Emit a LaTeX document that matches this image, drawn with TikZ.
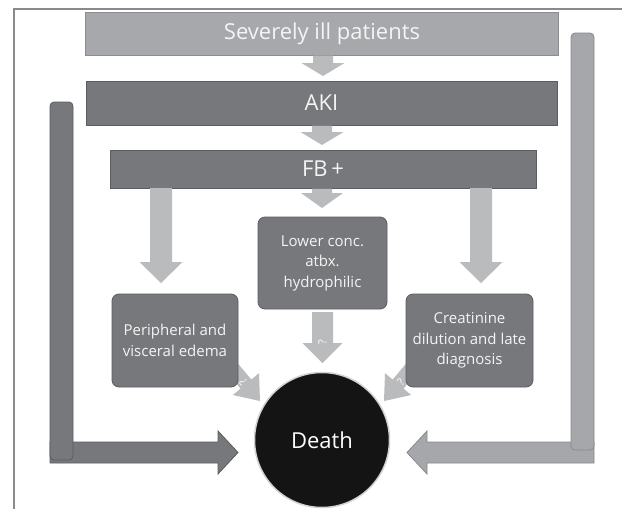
\documentclass[tikz,border=0pt]{standalone}
\usepackage{fontspec}
\setmainfont{Open Sans}
\usetikzlibrary{calc}
\definecolor{lightbox}{HTML}{A7A8AB}
\definecolor{lightboxline}{HTML}{8C8D90}
\definecolor{darkbox}{HTML}{77787B}
\definecolor{darkboxline}{HTML}{5C5D60}
\definecolor{arrowgray}{HTML}{BABBBD}
\definecolor{rightgray}{HTML}{A6A7AA}
\definecolor{rightline}{HTML}{898A8D}
\definecolor{framegray}{HTML}{8A8A8A}
\definecolor{txt}{HTML}{F4F4F4}
\tikzset{
  bigbox/.style={rectangle, draw=#1line, fill=#1, line width=1pt, text=txt, inner sep=0pt, font=\fontsize{22}{26}\selectfont},
  smallbox/.style={rectangle, rounded corners=7pt, draw=darkboxline, fill=darkbox, line width=0.8pt, text=txt, inner sep=0pt, align=center, font=\fontsize{15}{20.5}\selectfont},
  lightarrow/.style={fill=arrowgray},
  qmark/.style={text=white, font=\fontsize{11}{11}\selectfont, inner sep=0pt},
}
% down block arrow: #1 style, #2 start (top), #3 tip, #4 half shaft, #5 half head, #6 head length
\newcommand\downblk[6]{\path[#1] let \p1=(#2), \p2=(#3) in
  (\x2-#4,\y1) -- (\x2+#4,\y1) -- (\x2+#4,\y2+#6) -- (\x2+#5,\y2+#6) -- (\x2,\y2)
  -- (\x2-#5,\y2+#6) -- (\x2-#4,\y2+#6) -- cycle;}
\begin{document}
\begin{tikzpicture}[x=1pt,y=-1pt]
\fill[white] (0,0) rectangle (622,509);
\useasboundingbox (0,0) rectangle (622,509);
\draw[framegray, line width=1.1pt] (14,509) -- (14,9) -- (622,9);

% main boxes
\node[bigbox=lightbox, minimum width=473pt, minimum height=43pt] (severe) at (322,33.5) {Severely ill patients};
\node[bigbox=darkbox, minimum width=471pt, minimum height=44pt] (aki) at (321.5,103) {AKI};
\node[bigbox=darkbox, minimum width=426pt, minimum height=38pt] (fb) at (323,169) {FB\,+};

% tip coordinates
\coordinate (t1) at (323,76);
\coordinate (t2) at (322,145);
\coordinate (t3) at (322,208);
\coordinate (s4) at (161,188);
\coordinate (t4) at (161,283);
\coordinate (s5) at (481,188);
\coordinate (t5) at (481,283);
\coordinate (s6) at (322.5,312);
\coordinate (t6) at (322.5,363);

\downblk{lightarrow}{severe.south}{t1}{10pt}{21.5pt}{13pt}
\downblk{lightarrow}{aki.south}{t2}{10pt}{21.5pt}{13pt}
\downblk{lightarrow}{fb.south}{t3}{10pt}{21pt}{15pt}
\downblk{lightarrow}{s4}{t4}{11pt}{21.5pt}{21pt}
\downblk{lightarrow}{s5}{t5}{11pt}{21.5pt}{21pt}
\downblk{lightarrow}{s6}{t6}{10.5pt}{20pt}{20pt}
\node[qmark, rotate=90] (q1) at (322.5,342) {?};

% small diagonal arrows (drawn under the boxes)
\fill[arrowgray] (232.1,356.5) -- (251.3,379.6) -- (259.0,373.2) -- (260,401) -- (232.8,395.0) -- (240.5,388.6) -- (221.3,365.5) -- cycle;
\fill[arrowgray] (411.9,356.5) -- (392.7,379.6) -- (385.0,373.2) -- (384,401) -- (411.2,395.0) -- (403.5,388.6) -- (422.7,365.5) -- cycle;

% second row boxes
\node[smallbox, minimum width=126pt, minimum height=93pt] (per) at (175,340.5) {Peripheral and\\visceral edema};
\node[smallbox, minimum width=129pt, minimum height=92pt] (low) at (322.5,263) {Lower conc.\\atbx.\\hydrophilic};
\node[smallbox, minimum width=127pt, minimum height=93pt] (cre) at (469.5,340.5) {Creatinine\\dilution and late\\diagnosis};

\node[qmark, rotate=130] (q2) at (243,382) {?};
\node[qmark, rotate=50] (q3) at (401,382) {?};

% side feedback arrows
\coordinate (lt) at (238,452.5);
\coordinate (rt) at (407,452.5);
\path[fill=darkbox, draw=darkboxline, line width=0.8pt]
  (50,442) -- (218,442) -- (218,431) -- (lt) -- (218,474) -- (218,463) -- (50,463) -- cycle;
\node[rectangle, rounded corners=4pt, draw=darkboxline, fill=darkbox, line width=0.8pt, minimum width=23pt, minimum height=358pt, inner sep=0pt] (lbar) at (61.5,281) {};
\path[fill=rightgray, draw=rightline, line width=0.8pt]
  (594,442) -- (427,442) -- (427,431) -- (rt) -- (427,474) -- (427,463) -- (594,463) -- cycle;
\node[rectangle, rounded corners=4pt, draw=rightline, fill=rightgray, line width=0.8pt, minimum width=23pt, minimum height=417pt, inner sep=0pt] (rbar) at (582.5,241.5) {};

% death
\node[circle, fill=black!92, draw=black!18, line width=1.5pt, minimum size=135pt, inner sep=0pt, text=white, font=\fontsize{22}{24}\selectfont] (death) at (322,440) {Death};
\end{tikzpicture}
\end{document}
